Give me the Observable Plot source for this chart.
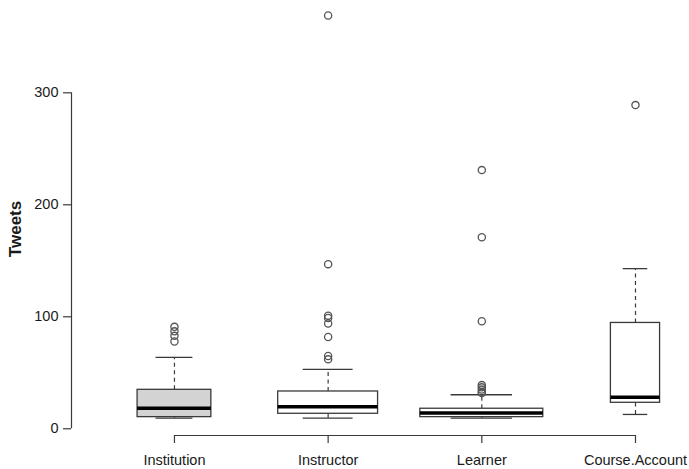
<!DOCTYPE html>
<html>
<head>
<meta charset="utf-8">
<script src="https://cdn.jsdelivr.net/npm/d3@7"></script>
<script src="https://cdn.jsdelivr.net/npm/@observablehq/plot@0.6"></script>
<style>
  html, body { margin: 0; padding: 0; background: #fff; }
</style>
</head>
<body>
<div id="chart"></div>
<script>
// ---- data ----
const categories = ["Institution", "Instructor", "Learner", "Course.Account"];
const counts = [36, 66, 100, 16];            // group sizes (varwidth boxes)
const lowerWhisker = [9.5, 9.5, 9.5, 12.8];
const q1 = [10.4, 13.4, 10.4, 23.2];
const median = [18.4, 19.6, 14.0, 28.2];
const q3 = [34.8, 33.3, 17.9, 94.5];
const upperWhisker = [63.7, 53.0, 30.4, 143.0];
const outliersInstitution = [91, 87, 83, 78];
const outliersInstructor = [369, 147, 101, 99, 94, 82, 65, 62];
const outliersLearner = [231, 171, 96, 39, 37, 35, 33, 32];
const outliersCourseAccount = [289];
const yTicks = [0, 100, 200, 300];
const yLabel = "Tweets";

// ---- tables built from the arrays ----
const maxN = d3.max(counts);
const stats = categories.map((c, i) => ({
  category: c,
  pos: i + 1,
  w: 0.8 * Math.sqrt(counts[i] / maxN),
  lo: lowerWhisker[i], q1: q1[i], med: median[i], q3: q3[i], hi: upperWhisker[i]
}));
const outlierLists = [outliersInstitution, outliersInstructor, outliersLearner, outliersCourseAccount];
const outliers = outlierLists.flatMap((arr, i) => arr.map(v => ({category: categories[i], pos: i + 1, value: v})));

const xDomain = [0.33, categories.length + 0.33];
const yDomain = [-6, 300];
const ink = "#3a3a3a";

const chart = Plot.plot({
  width: 689,
  height: 469,
  marginLeft: 71,
  marginRight: 3.3,
  marginTop: 92.3,
  marginBottom: 34,
  style: {fontFamily: "'Liberation Sans', Arial, Helvetica, sans-serif", fontSize: "14.5px", color: "#1a1a1a", background: "#fff"},
  x: {domain: xDomain, axis: null},
  y: {domain: yDomain, axis: null},
  marks: [
    // whiskers (dashed)
    Plot.ruleX(stats, {x: "pos", y1: "q3", y2: "hi", stroke: ink, strokeWidth: 1.2, strokeDasharray: "4,3.5"}),
    Plot.ruleX(stats, {x: "pos", y1: "lo", y2: "q1", stroke: ink, strokeWidth: 1.2, strokeDasharray: "4,3.5"}),
    // staples
    Plot.ruleY(stats, {y: "hi", x1: d => d.pos - d.w / 4, x2: d => d.pos + d.w / 4, stroke: ink, strokeWidth: 1.3}),
    Plot.ruleY(stats, {y: "lo", x1: d => d.pos - d.w / 4, x2: d => d.pos + d.w / 4, stroke: ink, strokeWidth: 1.3}),
    // boxes
    Plot.rect(stats, {
      x1: d => d.pos - d.w / 2, x2: d => d.pos + d.w / 2, y1: "q1", y2: "q3",
      fill: d => d.category === "Institution" ? "#d3d3d3" : "#ffffff",
      stroke: ink, strokeWidth: 1.3
    }),
    // medians
    Plot.ruleY(stats, {y: "med", x1: d => d.pos - d.w / 2, x2: d => d.pos + d.w / 2, stroke: "#000", strokeWidth: 3.5}),
    // outliers
    Plot.dot(outliers, {x: "pos", y: "value", r: 3.6, stroke: "#555", strokeWidth: 1.3, fill: "none"}),
    // y axis
    Plot.ruleX([xDomain[0]], {x: d => d, y1: yTicks[0], y2: yTicks[yTicks.length - 1], stroke: ink, strokeWidth: 1.2}),
    Plot.axisY({ticks: yTicks, tickSize: 8, tickPadding: 5, label: null, stroke: ink, strokeWidth: 1.2}),
    Plot.text([yLabel], {text: d => d, frameAnchor: "left", rotate: -90, dx: -56, dy: -7, fontSize: 17, fontWeight: "bold", fill: "#1a1a1a"}),
    // x axis
    Plot.ruleY([yDomain[0]], {y: d => d, x1: stats[0].pos, x2: stats[stats.length - 1].pos, stroke: ink, strokeWidth: 1.2}),
    Plot.axisX({ticks: stats.map(d => d.pos), tickFormat: i => categories[i - 1], tickSize: 8, tickPadding: 11, label: null, stroke: ink, strokeWidth: 1.2})
  ]
});
document.getElementById("chart").appendChild(chart);
</script>
</body>
</html>
